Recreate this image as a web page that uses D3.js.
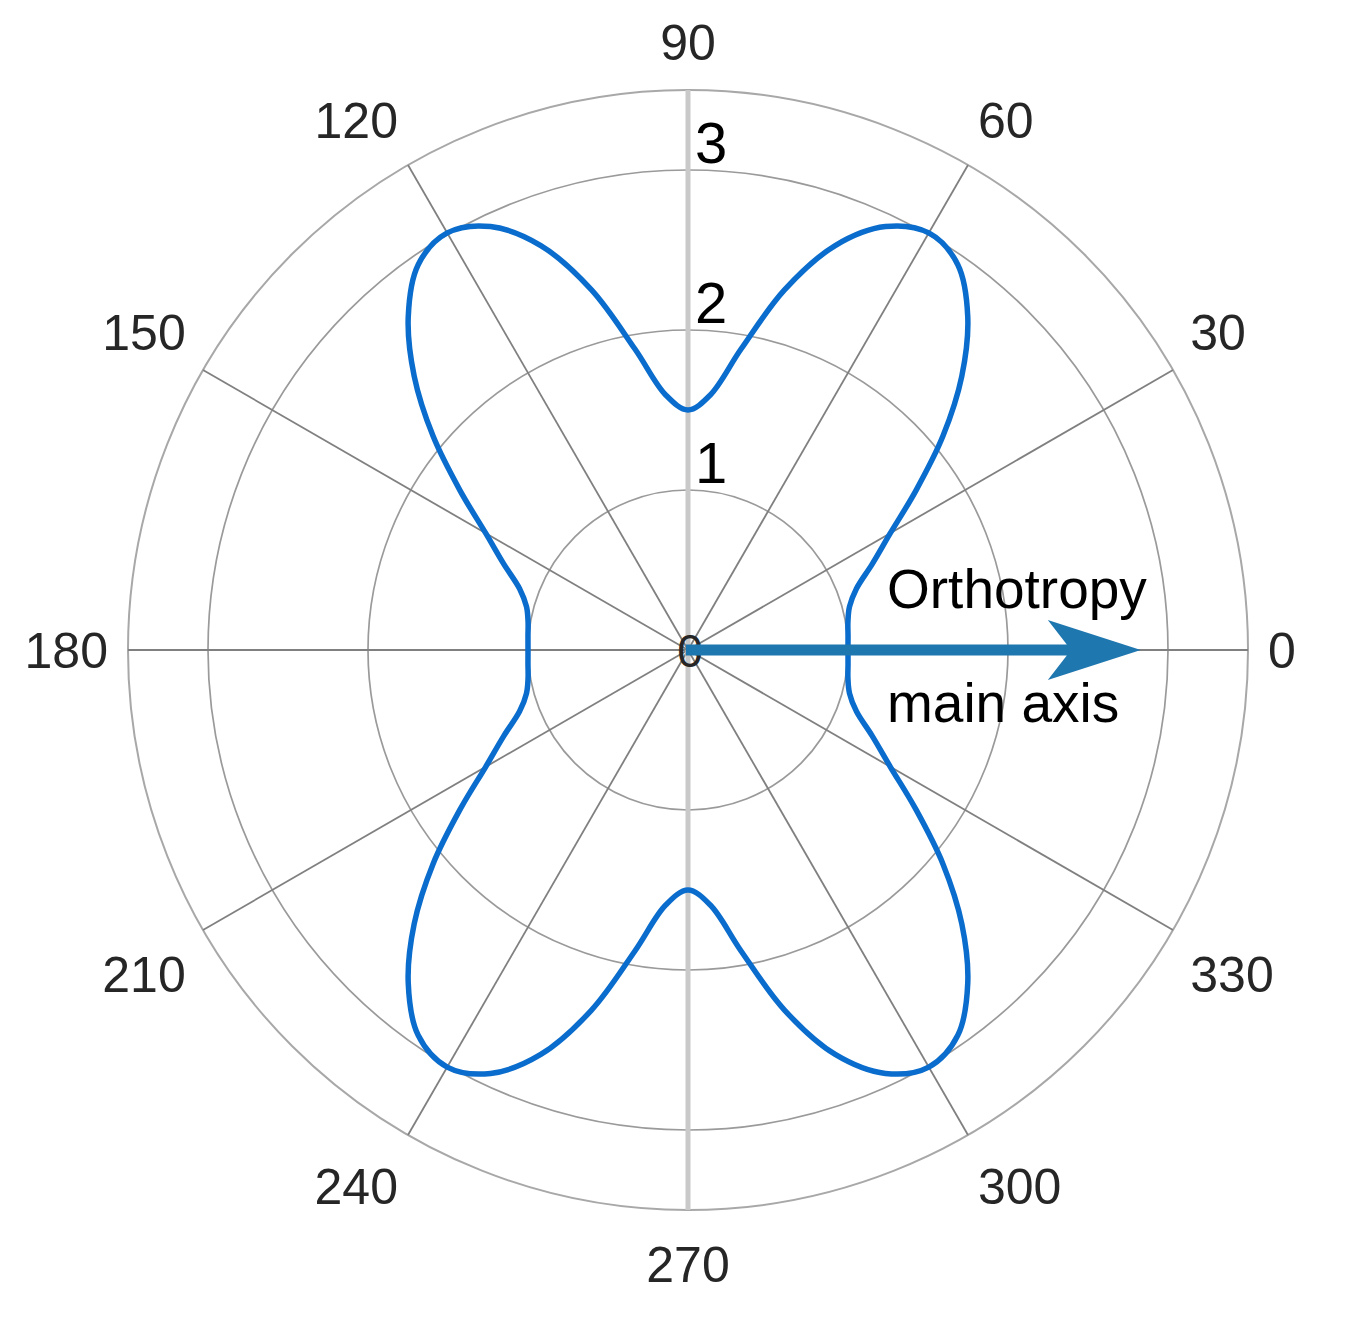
<!DOCTYPE html>
<html>
<head>
<meta charset="utf-8">
<script src="https://cdn.jsdelivr.net/npm/d3@7"></script>
<style>
  html, body { margin: 0; padding: 0; background: #ffffff; }
  svg { display: block; }
</style>
</head>
<body>
<svg id="chart" width="1368" height="1341"></svg>
<script>
// ---------------- data ----------------
// polar angle of each sample (degrees, counter-clockwise from 0)
const anglesDeg = [
  0, 5, 10, 15, 20, 25, 30, 35, 40, 45, 50, 55, 60, 65, 70, 75, 80, 85, 90,
  95, 100, 105, 110, 115, 120, 125, 130, 135, 140, 145, 150, 155, 160, 165, 170, 175, 180,
  185, 190, 195, 200, 205, 210, 215, 220, 225, 230, 235, 240, 245, 250, 255, 260, 265, 270,
  275, 280, 285, 290, 295, 300, 305, 310, 315, 320, 325, 330, 335, 340, 345, 350, 355
];
// radius at each angle
const radii = [
  1.00, 1.004, 1.015, 1.045, 1.12, 1.27, 1.46, 1.74, 2.08, 2.42, 2.72, 2.94, 3.01, 2.92, 2.69, 2.33, 1.91, 1.60, 1.50,
  1.60, 1.91, 2.33, 2.69, 2.92, 3.01, 2.94, 2.72, 2.42, 2.08, 1.74, 1.46, 1.27, 1.12, 1.045, 1.015, 1.004, 1.00,
  1.004, 1.015, 1.045, 1.12, 1.27, 1.46, 1.74, 2.08, 2.42, 2.72, 2.94, 3.01, 2.92, 2.69, 2.33, 1.91, 1.60, 1.50,
  1.60, 1.91, 2.33, 2.69, 2.92, 3.01, 2.94, 2.72, 2.42, 2.08, 1.74, 1.46, 1.27, 1.12, 1.045, 1.015, 1.004
];
// grid
const ringValues = [1, 2, 3];
const rMax = 3.5;
const spokeAngles = [0, 30, 60, 90, 120, 150, 180, 210, 240, 270, 300, 330];
const angleTickLabels = ["0", "30", "60", "90", "120", "150", "180", "210", "240", "270", "300", "330"];
const radialTickValues = [1, 2, 3];
const radialTickLabels = ["1", "2", "3"];
const centerLabel = "0";
// annotation
const arrowAngleDeg = 0;
const arrowLength = 2.83;
const annotationLines = ["Orthotropy", "main axis"];

// ---------------- drawing ----------------
const svg = d3.select("#chart");
const W = 1368, H = 1341;
const cx = 688, cy = 650;
const fontFamily = "'Liberation Sans', Arial, Helvetica, sans-serif";

svg.append("rect").attr("width", W).attr("height", H).attr("fill", "#ffffff");

const r = d3.scaleLinear().domain([0, rMax]).range([0, 560]);
const toRad = d => d * Math.PI / 180;
const px = (deg, val) => cx + r(val) * Math.cos(toRad(deg));
const py = (deg, val) => cy - r(val) * Math.sin(toRad(deg));

const g = svg.append("g");

// rings
g.selectAll("circle.ring")
  .data(ringValues)
  .join("circle")
  .attr("class", "ring")
  .attr("cx", cx).attr("cy", cy)
  .attr("r", d => r(d))
  .attr("fill", "none")
  .attr("stroke", "#9a9a9a")
  .attr("stroke-width", 1.7);

g.append("circle")
  .attr("cx", cx).attr("cy", cy)
  .attr("r", r(rMax))
  .attr("fill", "none")
  .attr("stroke", "#a8a8a8")
  .attr("stroke-width", 2);

// spokes
g.selectAll("line.spoke")
  .data(spokeAngles)
  .join("line")
  .attr("class", "spoke")
  .attr("x1", cx).attr("y1", cy)
  .attr("x2", d => px(d, rMax))
  .attr("y2", d => py(d, rMax))
  .attr("stroke", d => (d === 90 || d === 270) ? "#c9c9c9" : "#808080")
  .attr("stroke-width", d => (d === 90 || d === 270) ? 5 : 1.8);

// angle tick labels (text box placed outside a circle, pushed away along each axis)
const angLab = g.selectAll("text.ang")
  .data(spokeAngles)
  .join("text")
  .attr("class", "ang")
  .attr("font-family", fontFamily)
  .attr("font-size", 50)
  .attr("fill", "#262626")
  .attr("text-anchor", "middle")
  .text((d, i) => angleTickLabels[i]);

angLab.each(function(d) {
  const w = this.getComputedTextLength();
  let c = Math.cos(toRad(d)), s = Math.sin(toRad(d));
  if (Math.abs(c) < 1e-6) c = 0;
  if (Math.abs(s) < 1e-6) s = 0;
  const R0 = 580;
  const x = cx + R0 * c + Math.sign(c) * w / 2;
  const yc = cy - R0 * s - Math.sign(s) * (s > 0 ? 28 : 34);
  d3.select(this)
    .attr("x", x)
    .attr("y", yc + 18);
});

// radial tick labels
g.selectAll("text.rtick")
  .data(radialTickValues)
  .join("text")
  .attr("class", "rtick")
  .attr("font-family", fontFamily)
  .attr("font-size", 58)
  .attr("fill", "#000000")
  .attr("x", cx + 7)
  .attr("y", d => cy - r(d) - 7)
  .text((d, i) => radialTickLabels[i]);

// centre label
g.append("text")
  .attr("font-family", fontFamily)
  .attr("font-size", 46)
  .attr("fill", "#262626")
  .attr("text-anchor", "middle")
  .attr("x", cx + 2)
  .attr("y", cy + 17)
  .text(centerLabel);

// curve
const pts = anglesDeg.map((a, i) => [px(a, radii[i]), py(a, radii[i])]);
const line = d3.line().curve(d3.curveCatmullRomClosed.alpha(0.5));
g.append("path")
  .attr("d", line(pts))
  .attr("fill", "none")
  .attr("stroke", "#0a6ccc")
  .attr("stroke-width", 5.5)
  .attr("stroke-linejoin", "round");

// arrow
const tipX = px(arrowAngleDeg, arrowLength), tipY = py(arrowAngleDeg, arrowLength);
const headLen = 93, notch = 78, halfHead = 30, halfShaft = 5.5;
const ax0 = cx - 2;
const arrowPath = d3.path();
arrowPath.moveTo(ax0, cy - halfShaft);
arrowPath.lineTo(tipX - notch + 4, cy - halfShaft);
arrowPath.lineTo(tipX - headLen, cy - halfHead);
arrowPath.lineTo(tipX, tipY);
arrowPath.lineTo(tipX - headLen, cy + halfHead);
arrowPath.lineTo(tipX - notch + 4, cy + halfShaft);
arrowPath.lineTo(ax0, cy + halfShaft);
arrowPath.closePath();
g.append("path")
  .attr("d", arrowPath.toString())
  .attr("fill", "#1f77b0");

// annotation text
g.selectAll("text.ann")
  .data(annotationLines)
  .join("text")
  .attr("class", "ann")
  .attr("font-family", fontFamily)
  .attr("font-size", 55)
  .attr("fill", "#000000")
  .attr("x", 887)
  .attr("y", (d, i) => i === 0 ? cy - 42 : cy + 72)
  .text(d => d);
</script>
</body>
</html>
